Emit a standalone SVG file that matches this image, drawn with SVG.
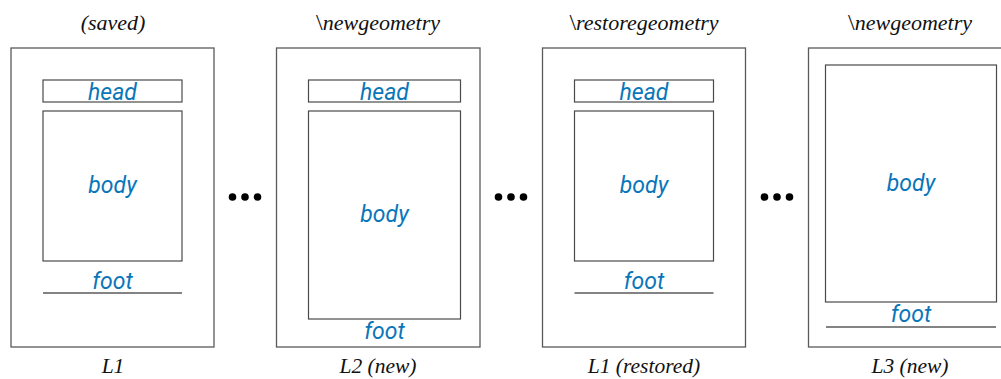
<svg xmlns="http://www.w3.org/2000/svg" width="1001" height="379" viewBox="0 0 1001 379">
<style>
.page{fill:#fff;stroke:#5a5a5a;stroke-width:1.3}
.box{fill:#fff;stroke:#4a4a4a;stroke-width:1.2}
.ln{stroke:#5a5a5a;stroke-width:1.3}
.lbl{font-family:Roboto,"Liberation Sans",sans-serif;font-style:italic;font-size:23px;fill:#0a76b9;text-anchor:middle}
.ttl{font-family:"Liberation Serif",serif;font-style:italic;font-size:22px;fill:#111;text-anchor:middle}
.cap{font-family:"Liberation Serif",serif;font-style:italic;font-size:21.5px;fill:#111;text-anchor:middle}
.bs{font-style:normal;font-size:24px}
.dot{fill:#000}
</style>
<rect width="1001" height="379" fill="#fff"/>
<g id="page1">
<text class="ttl" x="113" y="30">(saved)</text>
<rect class="page" x="11" y="48" width="203" height="299"/>
<rect class="box" x="43" y="80" width="139" height="22"/>
<text class="lbl" x="112.5" y="99.5">head</text>
<rect class="box" x="43" y="111" width="139" height="150"/>
<text class="lbl" x="112.5" y="193">body</text>
<text class="lbl" x="112.5" y="288.5">foot</text>
<line class="ln" x1="43" y1="293" x2="182" y2="293"/>
<text class="cap" x="113" y="373">L1</text>
</g>
<g id="page2">
<text class="ttl" x="378" y="30"><tspan class="bs">\</tspan>newgeometry</text>
<rect class="page" x="276.5" y="48" width="203.5" height="299"/>
<rect class="box" x="308.5" y="80" width="152" height="22"/>
<text class="lbl" x="384.5" y="99.5">head</text>
<rect class="box" x="308.5" y="111" width="152" height="208"/>
<text class="lbl" x="384.5" y="222">body</text>
<text class="lbl" x="384.5" y="339">foot</text>
<text class="cap" x="378" y="373">L2 (new)</text>
</g>
<g id="page3">
<text class="ttl" x="644" y="30"><tspan class="bs">\</tspan>restoregeometry</text>
<rect class="page" x="542.5" y="48" width="203" height="299"/>
<rect class="box" x="574.5" y="80" width="139" height="22"/>
<text class="lbl" x="644" y="99.5">head</text>
<rect class="box" x="574.5" y="111" width="139" height="150"/>
<text class="lbl" x="644" y="193">body</text>
<text class="lbl" x="644" y="288.5">foot</text>
<line class="ln" x1="574.5" y1="293" x2="713.5" y2="293"/>
<text class="cap" x="644" y="373">L1 (restored)</text>
</g>
<g id="page4">
<text class="ttl" x="910" y="30"><tspan class="bs">\</tspan>newgeometry</text>
<rect class="page" x="808.5" y="48" width="203" height="299"/>
<rect class="box" x="825.5" y="65" width="171" height="237"/>
<text class="lbl" x="911" y="191">body</text>
<text class="lbl" x="911" y="321.5">foot</text>
<line class="ln" x1="826" y1="327" x2="996" y2="327"/>
<text class="cap" x="910" y="373">L3 (new)</text>
</g>
<g id="connectors">
<circle class="dot" cx="232.5" cy="197" r="3.8"/>
<circle class="dot" cx="245" cy="197" r="3.8"/>
<circle class="dot" cx="257.5" cy="197" r="3.8"/>
<circle class="dot" cx="498.5" cy="197" r="3.8"/>
<circle class="dot" cx="511" cy="197" r="3.8"/>
<circle class="dot" cx="523.5" cy="197" r="3.8"/>
<circle class="dot" cx="764.5" cy="197" r="3.8"/>
<circle class="dot" cx="777" cy="197" r="3.8"/>
<circle class="dot" cx="789.5" cy="197" r="3.8"/>
</g>
</svg>
